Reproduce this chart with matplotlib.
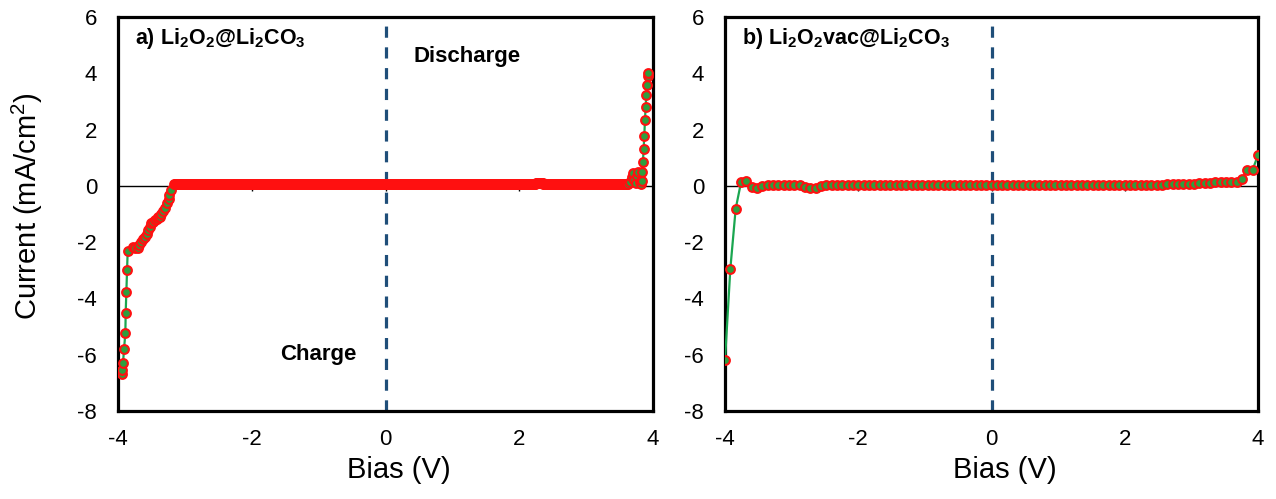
import matplotlib.pyplot as plt
import numpy as np

plt.rcParams['font.family'] = ['Liberation Sans', 'DejaVu Sans']
plt.rcParams['mathtext.fontset'] = 'custom'
plt.rcParams['mathtext.rm'] = 'Liberation Sans'
plt.rcParams['mathtext.bf'] = 'Liberation Sans:bold'
plt.rcParams['axes.unicode_minus'] = False

# panel a) Li2O2@Li2CO3 : charge branch near -4 V
a_neg_bias = [-3.945, -3.94, -3.925, -3.91, -3.89, -3.885, -3.875, -3.865, -3.855,
              -3.77, -3.74, -3.70, -3.68, -3.65, -3.62, -3.59, -3.57, -3.55, -3.52,
              -3.50, -3.48, -3.45, -3.42, -3.40, -3.37, -3.35, -3.32, -3.29, -3.26,
              -3.24, -3.23, -3.21, -3.16]
a_neg_curr = [-6.69, -6.55, -6.29, -5.81, -5.23, -4.5, -3.76, -3.0, -2.3,
              -2.16, -2.22, -2.2, -2.1, -1.98, -1.9, -1.8, -1.7, -1.57, -1.45,
              -1.33, -1.27, -1.21, -1.18, -1.12, -1.09, -1.0, -0.91, -0.78, -0.62,
              -0.48, -0.32, -0.14, 0.07]
# flat plateau, sweep step 0.01 V
a_flat_bias = np.round(np.arange(-3.15, 3.615, 0.01), 2)
a_flat_level = 0.05
a_bump_range = (2.25, 2.35)
a_bump_level = 0.09
# discharge branch near +4 V
a_pos_bias = [3.62, 3.66, 3.68, 3.70, 3.72, 3.74, 3.76, 3.78, 3.80, 3.82, 3.83,
              3.84, 3.85, 3.86, 3.87, 3.88, 3.89, 3.90, 3.91, 3.92, 3.93]
a_pos_curr = [0.06, 0.15, 0.3, 0.45, 0.2, 0.1, 0.35, 0.5, 0.15, 0.05, 0.18,
              0.5, 0.85, 1.3, 1.78, 2.35, 2.8, 3.24, 3.6, 3.9, 4.0]

# panel b) Li2O2vac@Li2CO3, step 0.08 V from -4 to 4
b_bias = np.round(np.linspace(-4, 4, 101), 2)
b_curr = [-6.2, -2.95, -0.82, 0.12, 0.18, -0.05, -0.08, -0.02, 0.02, 0.03,
          0.03, 0.03, 0.03, 0.03, 0.02, -0.05, -0.08, -0.06, 0.01, 0.02,
          0.03, 0.03, 0.03, 0.03, 0.03, 0.03, 0.03, 0.03, 0.03, 0.03,
          0.03, 0.03, 0.03, 0.03, 0.03, 0.03, 0.03, 0.03, 0.03, 0.03,
          0.03, 0.03, 0.03, 0.03, 0.03, 0.03, 0.03, 0.03, 0.03, 0.03,
          0.03, 0.03, 0.03, 0.03, 0.03, 0.03, 0.03, 0.03, 0.03, 0.03,
          0.03, 0.03, 0.03, 0.03, 0.03, 0.03, 0.03, 0.03, 0.03, 0.03,
          0.03, 0.03, 0.03, 0.03, 0.03, 0.03, 0.03, 0.03, 0.03, 0.03,
          0.03, 0.04, 0.04, 0.05, 0.05, 0.06, 0.07, 0.07, 0.08, 0.09,
          0.10, 0.11, 0.12, 0.14, 0.14, 0.13, 0.15, 0.25, 0.57, 0.57, 1.1]

xticks = [-4, -2, 0, 2, 4]
yticks = [-8, -6, -4, -2, 0, 2, 4, 6]

a_flat_curr = np.where((a_flat_bias >= a_bump_range[0]) & (a_flat_bias <= a_bump_range[1]),
                       a_bump_level, a_flat_level)
a_bias = np.concatenate([a_neg_bias, a_flat_bias, a_pos_bias])
a_curr = np.concatenate([a_neg_curr, a_flat_curr, a_pos_curr])

line_green = '#1aa650'
face_green = '#2e9e3e'
edge_red = '#ff1010'

fig = plt.figure(figsize=(12.76, 4.99), dpi=100)
ax1 = fig.add_axes([118/1276, 88/499, 535/1276, 394/499])
ax2 = fig.add_axes([725/1276, 88/499, 533/1276, 394/499])

for ax, x, y in [(ax1, a_bias, a_curr), (ax2, b_bias, b_curr)]:
    ax.axhline(0, color='black', lw=1, zorder=1)
    ax.vlines(xticks, -0.2, 0, color='black', lw=1, zorder=1)
    ax.axvline(0, color='#1f4e79', lw=2.3, dashes=(3.5, 3.0), zorder=2)
    ax.plot(x, y, color=line_green, lw=1.6, marker='o', ms=6.3,
            mfc=face_green, mec=edge_red, mew=1.5, zorder=3)
    ax.set_xlim(-4, 4)
    ax.set_ylim(-8, 6)
    ax.set_xticks(xticks)
    ax.set_yticks(yticks)
    ax.tick_params(length=0, labelsize=16)
    ax.tick_params(axis='x', pad=13)
    ax.tick_params(axis='y', pad=15)
    for s in ax.spines.values():
        s.set_linewidth(2.3)
    ax.set_xlabel('Bias (V)', fontsize=21, labelpad=4)
    ax.xaxis.set_label_coords(0.525, -0.115)

ax1.set_ylabel('Current (mA/cm$^2$)', fontsize=21)
ax1.yaxis.set_label_coords(-0.137, 0.52)

ax1.text(-3.75, 5.25, r'a) Li$\mathbf{_2}$O$\mathbf{_2}$@Li$\mathbf{_2}$CO$\mathbf{_3}$',
         fontsize=15.5, fontweight='bold', va='center')
ax2.text(-3.74, 5.25, r'b) Li$\mathbf{_2}$O$\mathbf{_2}$vac@Li$\mathbf{_2}$CO$\mathbf{_3}$',
         fontsize=15.5, fontweight='bold', va='center')
ax1.text(1.22, 4.6, 'Discharge', fontsize=16, fontweight='bold', ha='center', va='center')
ax1.text(-1.0, -6.0, 'Charge', fontsize=16, fontweight='bold', ha='center', va='center')

fig.savefig('out.png', dpi=100)
